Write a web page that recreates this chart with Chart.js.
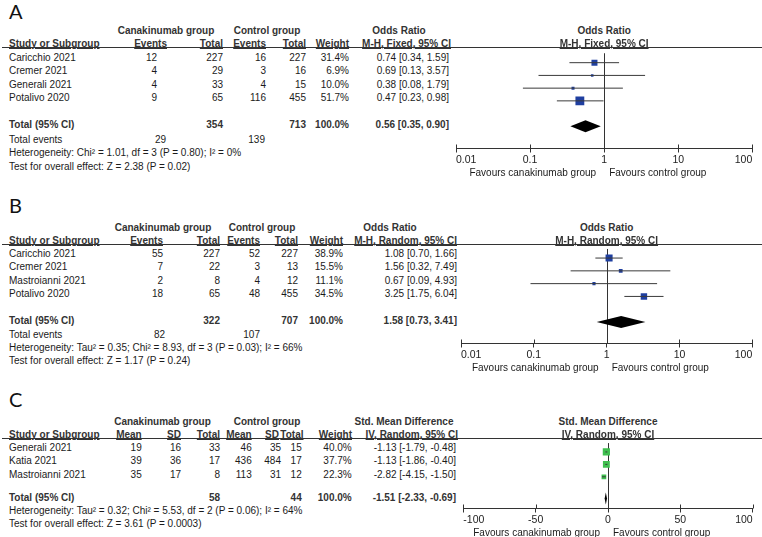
<!DOCTYPE html>
<html>
<head>
<meta charset="utf-8">
<title>Canakinumab meta-analysis forest plots</title>
<script src="https://cdn.jsdelivr.net/npm/chart.js@4.4.1/dist/chart.umd.min.js"></script>
<style>
  html, body { margin: 0; padding: 0; background: #fff; }
  #page { position: relative; width: 762px; height: 537px; overflow: hidden;
          font-family: "Liberation Sans", Arial, sans-serif; font-size: 10px; color: #1b1b1b; }
  .txt { position: absolute; white-space: nowrap; line-height: 12px; }
  .b { font-weight: bold; color: #333; }
  .u { text-decoration: underline; }
  .plabel { position: absolute; font-family: Lato, "Open Sans", sans-serif; font-size: 20px; line-height: 24px; color: #111; }
  .rule { position: absolute; left: 2px; width: 760px; height: 1px; background: #333; }
  canvas { position: absolute; }
</style>
</head>
<body>
<div id="page"></div>
<script>
// ---- panel A: mortality, odds ratio (fixed) ----
const studiesA = ['Caricchio 2021', 'Cremer 2021', 'Generali 2021', 'Potalivo 2020'];
const canEventsA = [12, 4, 4, 9];
const canTotalA = [227, 29, 33, 65];
const ctlEventsA = [16, 3, 4, 116];
const ctlTotalA = [227, 16, 15, 455];
const weightA = [31.4, 6.9, 10.0, 51.7];
const orA = [0.74, 0.69, 0.38, 0.47];
const orLowA = [0.34, 0.13, 0.08, 0.23];
const orHighA = [1.59, 3.57, 1.79, 0.98];
const pooledA = [0.56, 0.35, 0.90];
const hetA = 'Heterogeneity: Chi² = 1.01, df = 3 (P = 0.80); I² = 0%';
const testA = 'Test for overall effect: Z = 2.38 (P = 0.02)';

// ---- panel B: odds ratio (random) ----
const studiesB = ['Caricchio 2021', 'Cremer 2021', 'Mastroianni 2021', 'Potalivo 2020'];
const canEventsB = [55, 7, 2, 18];
const canTotalB = [227, 22, 8, 65];
const ctlEventsB = [52, 3, 4, 48];
const ctlTotalB = [227, 13, 12, 455];
const weightB = [38.9, 15.5, 11.1, 34.5];
const orB = [1.08, 1.56, 0.67, 3.25];
const orLowB = [0.70, 0.32, 0.09, 1.75];
const orHighB = [1.66, 7.49, 4.93, 6.04];
const pooledB = [1.58, 0.73, 3.41];
const hetB = 'Heterogeneity: Tau² = 0.35; Chi² = 8.93, df = 3 (P = 0.03); I² = 66%';
const testB = 'Test for overall effect: Z = 1.17 (P = 0.24)';

// ---- panel C: std. mean difference (random) ----
const studiesC = ['Generali 2021', 'Katia 2021', 'Mastroianni 2021'];
const canMeanC = [19, 39, 35];
const canSdC = [16, 36, 17];
const canTotalC = [33, 17, 8];
const ctlMeanC = [46, 436, 113];
const ctlSdC = [35, 484, 31];
const ctlTotalC = [15, 17, 12];
const weightC = [40.0, 37.7, 22.3];
const smdC = [-1.13, -1.13, -2.82];
const smdLowC = [-1.79, -1.86, -4.15];
const smdHighC = [-0.48, -0.40, -1.50];
const pooledC = [-1.51, -2.33, -0.69];
const hetC = 'Heterogeneity: Tau² = 0.32; Chi² = 5.53, df = 2 (P = 0.06); I² = 64%';
const testC = 'Test for overall effect: Z = 3.61 (P = 0.0003)';

// axis tick labels
const oddsTicks = [0.01, 0.1, 1, 10, 100];
const smdTicks = [-100, -50, 0, 50, 100];

const page = document.getElementById('page');
const sum = arr => arr.reduce((a, b) => a + b, 0);
const pct = w => w.toFixed(1) + '%';
const ci = (e, l, h) => `${e.toFixed(2)} [${l.toFixed(2)}, ${h.toFixed(2)}]`;

function txt(s, x, y, o = {}) {
  const d = document.createElement('div');
  d.className = 'txt' + (o.bold ? ' b' : '') + (o.u ? ' u' : '');
  d.textContent = s;
  d.style.top = (y - 6) + 'px';
  if (o.align === 'right') {
    d.style.right = (762 - x) + 'px';
  } else if (o.align === 'center') {
    d.style.left = x + 'px';
    d.style.transform = 'translateX(-50%)';
  } else {
    d.style.left = x + 'px';
  }
  page.appendChild(d);
}

function panelLabel(s, y) {
  const d = document.createElement('div');
  d.className = 'plabel';
  d.textContent = s;
  d.style.left = '9px';
  d.style.top = (y - 12.5) + 'px';
  page.appendChild(d);
}

function rule(y) {
  const d = document.createElement('div');
  d.className = 'rule';
  d.style.top = Math.floor(y) + 'px';
  page.appendChild(d);
}

// plugin: null line, upper half of the tick marks, pooled diamond
const forestExtras = {
  id: 'forestExtras',
  beforeDatasetsDraw(chart, args, opts) {
    const { ctx, chartArea, scales: { x } } = chart;
    ctx.save();
    ctx.strokeStyle = '#333';
    ctx.lineWidth = 1;
    ctx.beginPath();
    const nx = Math.round(x.getPixelForValue(opts.nullValue)) + 0.5;
    ctx.moveTo(nx, chartArea.top);
    ctx.lineTo(nx, chartArea.bottom);
    x.ticks.forEach(t => {
      const tx = Math.round(x.getPixelForValue(t.value)) + 0.5;
      ctx.moveTo(tx, chartArea.bottom - 4);
      ctx.lineTo(tx, chartArea.bottom);
    });
    ctx.stroke();
    ctx.restore();
  },
  afterDatasetsDraw(chart, args, opts) {
    const { ctx, scales: { x, y } } = chart;
    const [est, lo, hi] = opts.pooled;
    const cy = y.getPixelForValue(opts.totalRow);
    ctx.save();
    ctx.fillStyle = '#000';
    ctx.beginPath();
    ctx.moveTo(x.getPixelForValue(lo), cy);
    ctx.lineTo(x.getPixelForValue(est), cy - 6);
    ctx.lineTo(x.getPixelForValue(hi), cy);
    ctx.lineTo(x.getPixelForValue(est), cy + 6);
    ctx.closePath();
    ctx.fill();
    ctx.restore();
  }
};

function forestPlot(p) {
  const top = Math.floor(p.lineY);
  const axisH = 4 + 3 + 10.5 * 1.2;
  const h = Math.ceil(p.axisY - top + axisH + 1);
  const cv = document.createElement('canvas');
  cv.width = 322;
  cv.height = h;
  cv.style.left = '440px';
  cv.style.top = top + 'px';
  page.appendChild(cv);

  const idx = p.est.map((_, i) => i);
  const datasets = idx.map(i => ({
    data: [{ x: p.low[i], y: i }, { x: p.high[i], y: i }],
    showLine: true,
    borderColor: '#3a3a3a',
    borderWidth: 1,
    pointRadius: 0
  }));
  datasets.push({
    data: idx.map(i => ({ x: p.est[i], y: i })),
    pointStyle: 'rect',
    pointRadius: p.weight.map(w => (1.6 + 0.14 * w) / Math.SQRT2),
    backgroundColor: p.color,
    pointBackgroundColor: p.color,
    pointBorderWidth: 0,
    borderWidth: 0
  });

  const chart = new Chart(cv, {
    type: 'scatter',
    data: { datasets: datasets },
    options: {
      responsive: false,
      animation: false,
      events: [],
      devicePixelRatio: 1,
      layout: { padding: { left: p.padL, right: p.padR, top: p.lineY - top, bottom: h - (p.axisY - top) - axisH } },
      plugins: {
        legend: { display: false },
        tooltip: { enabled: false },
        forestExtras: { nullValue: p.nullValue, pooled: p.pooled, totalRow: p.totalRow }
      },
      scales: {
        x: {
          type: p.log ? 'logarithmic' : 'linear',
          min: p.ticks[0],
          max: p.ticks[p.ticks.length - 1],
          afterBuildTicks: ax => { ax.ticks = p.ticks.map(v => ({ value: v })); },
          ticks: {
            callback: v => String(v),
            autoSkip: false,
            maxRotation: 0,
            align: 'inner',
            padding: 1.5,
            color: '#222',
            font: { family: "'Liberation Sans', Arial, sans-serif", size: 10.5 }
          },
          grid: { drawOnChartArea: false, tickLength: 4, color: '#333' },
          border: { color: '#333', width: 1 }
        },
        y: {
          type: 'linear',
          display: false,
          reverse: true,
          min: -(p.row0 - p.lineY) / p.sp,
          max: (p.axisY - p.row0) / p.sp
        }
      }
    },
    plugins: [forestExtras]
  });

  // plot headers and favours labels, placed from the chart's own scale
  const area = chart.chartArea;
  const mid = 440 + (area.left + area.right) / 2;
  txt(p.head1, mid, p.lineY - 16.5, { align: 'center', bold: true });
  txt(p.head2, mid, p.lineY - 3.5, { align: 'center', bold: true, u: true });
  const nullPx = 440 + chart.scales.x.getPixelForValue(p.nullValue);
  txt('Favours canakinumab group', nullPx - 8, p.axisY + 24.5, { align: 'right' });
  txt('Favours control group', nullPx + 5, p.axisY + 24.5);
  return chart;
}

function header(lay, groups, cols) {
  groups.forEach(g => txt(g[0], g[1], lay.lineY - 16.5, { align: 'center', bold: true }));
  txt('Study or Subgroup', 9, lay.lineY - 3.5, { bold: true, u: true });
  cols.forEach(c => txt(c[0], c[1], lay.lineY - 3.5, { align: 'right', bold: true, u: true }));
  rule(lay.lineY);
}

function body(lay, names, cols) {
  names.forEach((n, i) => {
    const y = lay.row0 + i * lay.sp;
    txt(n, 9, y);
    cols.forEach(c => txt(c[0][i], c[1], y, { align: 'right' }));
  });
}

// ================= A =================
const layA = { lineY: 47.5, row0: 57.5, sp: 13.5, axisY: 148.5, totalRow: 5 };
panelLabel('A', 11);
header(layA,
  [['Canakinumab group', 166], ['Control group', 267], ['Odds Ratio', 399]],
  [['Events', 167], ['Total', 223], ['Events', 266], ['Total', 306], ['Weight', 349], ['M-H, Fixed, 95% CI', 451]]);
body(layA, studiesA, [
  [canEventsA.map(String), 157], [canTotalA.map(String), 223],
  [ctlEventsA.map(String), 266], [ctlTotalA.map(String), 306],
  [weightA.map(pct), 349], [orA.map((e, i) => ci(e, orLowA[i], orHighA[i])), 449]
]);
{
  const ty = layA.row0 + layA.totalRow * layA.sp;
  txt('Total (95% CI)', 9, ty, { bold: true });
  txt(String(sum(canTotalA)), 223, ty, { align: 'right', bold: true });
  txt(String(sum(ctlTotalA)), 306, ty, { align: 'right', bold: true });
  txt(pct(sum(weightA)), 349, ty, { align: 'right', bold: true });
  txt(ci(...pooledA), 449, ty, { align: 'right', bold: true });
  txt('Total events', 9, 139.5);
  txt(String(sum(canEventsA)), 166, 139.5, { align: 'right' });
  txt(String(sum(ctlEventsA)), 265, 139.5, { align: 'right' });
  txt(hetA, 9, 153);
  txt(testA, 9, 166.5);
}
forestPlot({
  ...layA, padL: 16, padR: 9.7, log: true, ticks: oddsTicks, nullValue: 1,
  est: orA, low: orLowA, high: orHighA, weight: weightA, pooled: pooledA,
  color: '#1f3fa0', head1: 'Odds Ratio', head2: 'M-H, Fixed, 95% CI'
});

// ================= B =================
const layB = { lineY: 244.5, row0: 254, sp: 13.4, axisY: 343.5, totalRow: 5 };
panelLabel('B', 205);
header(layB,
  [['Canakinumab group', 163], ['Control group', 262], ['Odds Ratio', 390]],
  [['Events', 163], ['Total', 220], ['Events', 260], ['Total', 298], ['Weight', 343], ['M-H, Random, 95% CI', 457]]);
body(layB, studiesB, [
  [canEventsB.map(String), 163], [canTotalB.map(String), 220],
  [ctlEventsB.map(String), 260], [ctlTotalB.map(String), 298],
  [weightB.map(pct), 343], [orB.map((e, i) => ci(e, orLowB[i], orHighB[i])), 457]
]);
{
  const ty = layB.row0 + layB.totalRow * layB.sp;
  txt('Total (95% CI)', 9, ty, { bold: true });
  txt(String(sum(canTotalB)), 220, ty, { align: 'right', bold: true });
  txt(String(sum(ctlTotalB)), 298, ty, { align: 'right', bold: true });
  txt(pct(sum(weightB)), 343, ty, { align: 'right', bold: true });
  txt(ci(...pooledB), 457, ty, { align: 'right', bold: true });
  txt('Total events', 9, 334.5);
  txt(String(sum(canEventsB)), 165, 334.5, { align: 'right' });
  txt(String(sum(ctlEventsB)), 260, 334.5, { align: 'right' });
  txt(hetB, 9, 347.5);
  txt(testB, 9, 360.5);
}
forestPlot({
  ...layB, padL: 21, padR: 9.7, log: true, ticks: oddsTicks, nullValue: 1,
  est: orB, low: orLowB, high: orHighB, weight: weightB, pooled: pooledB,
  color: '#1f3fa0', head1: 'Odds Ratio', head2: 'M-H, Random, 95% CI'
});

// ================= C =================
const layC = { lineY: 438.5, row0: 448, sp: 13.3, axisY: 508.5, totalRow: 3.75 };
panelLabel('C', 399);
header(layC,
  [['Canakinumab group', 162.5], ['Control group', 267], ['Std. Mean Difference', 404]],
  [['Mean', 141.7], ['SD', 181], ['Total', 220], ['Mean', 251.7], ['SD', 279], ['Total', 303.5], ['Weight', 352], ['IV, Random, 95% CI', 458]]);
body(layC, studiesC, [
  [canMeanC.map(String), 141.7], [canSdC.map(String), 181], [canTotalC.map(String), 220],
  [ctlMeanC.map(String), 251.7], [ctlSdC.map(String), 281], [ctlTotalC.map(String), 301.7],
  [weightC.map(pct), 351.7], [smdC.map((e, i) => ci(e, smdLowC[i], smdHighC[i])), 456]
]);
{
  const ty = layC.row0 + layC.totalRow * layC.sp;
  txt('Total (95% CI)', 9, ty, { bold: true });
  txt(String(sum(canTotalC)), 220, ty, { align: 'right', bold: true });
  txt(String(sum(ctlTotalC)), 301.7, ty, { align: 'right', bold: true });
  txt(pct(sum(weightC)), 351.7, ty, { align: 'right', bold: true });
  txt(ci(...pooledC), 456, ty, { align: 'right', bold: true });
  txt(hetC, 9, ty + 13.3);
  txt(testC, 9, ty + 26.6);
}
forestPlot({
  ...layC, padL: 23.3, padR: 9.3, log: false, ticks: smdTicks, nullValue: 0,
  est: smdC, low: smdLowC, high: smdHighC, weight: weightC, pooled: pooledC,
  color: '#3fbf4f', head1: 'Std. Mean Difference', head2: 'IV, Random, 95% CI'
});
</script>
</body>
</html>
